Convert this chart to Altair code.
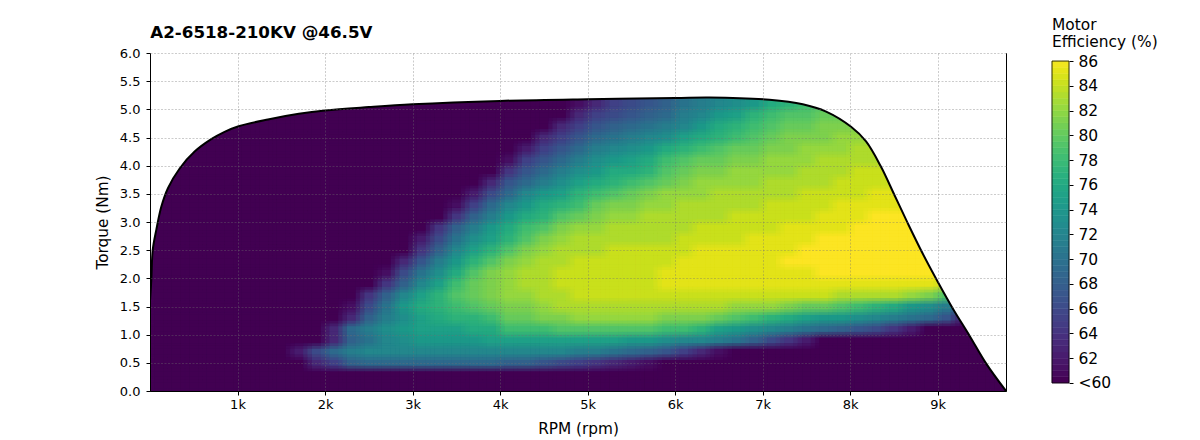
import altair as alt
import pandas as pd

TITLE = "A2-6518-210KV @46.5V"
RPM_CENTERS = list(range(100, 9800, 200))
LEFT_COLS = 8  # 100..1500 rpm are all below the 60 % floor
TORQUE_CENTERS = [0.1, 0.3, 0.5, 0.7, 0.9, 1.1, 1.3, 1.5, 1.7, 1.9, 2.1, 2.3, 2.5, 2.7, 2.9,
                  3.1, 3.3, 3.5, 3.7, 3.9, 4.1, 4.3, 4.5, 4.7, 4.9, 5.1]

# each row starts at 1700 rpm, step 200 rpm
EFF_ROWS = [
    [60],
    [60],
    [60,63,65,68,69,69,69,69,69,69,69,69,68,68,67,66,65,64,63,62,61,60],
    [62,66,69,71,72,72,72,72,72,72,72,72,72,72,72,72,71,71,70,69,68,67,65,63,61,60],
    [60,60,63,68,70,72,73,74,74,74,74,75,75,75,75,75,75,75,75,74,74,73,72,72,71,70,68,66,64,62,60],
    [60,60,63,69,71,73,74,75,75,75,76,76,78,78,78,79,79,79,79,79,79,78,78,77,75,74,73,72,71,70,69,68,67,66,64,62,60],
    [60,60,60,63,68,71,73,75,76,77,77,78,80,80,81,81,82,82,82,82,82,81,81,81,80,79,78,77,76,75,74,74,73,72,71,70,69,67,62,60],
    [60,60,60,61,66,70,74,76,77,78,79,80,81,81,82,83,83,83,83,83,83,83,83,83,83,82,82,82,81,80,80,79,78,77,76,74,73,71,68,62,60],
    [60,60,60,60,64,68,72,75,77,79,80,81,82,82,83,83,84,84,84,84,84,84,84,84,84,84,84,84,84,84,84,83,83,83,83,82,81,79,77,74,70],
    [60,60,60,60,60,64,68,72,75,78,80,81,82,83,83,84,84,84,84,84,84,85,85,85,85,85,85,85,85,85,85,85,85,85,85,85,85,84,84,84,84],
    [60,60,60,60,60,61,66,70,73,76,79,81,82,83,83,84,84,84,84,84,84,85,85,85,85,85,85,85,85,85,86,86,86,86,86,86,86,86,86,86,86],
    [60,60,60,60,60,60,63,67,71,74,77,79,81,82,83,83,84,84,84,84,84,84,85,85,85,85,85,85,86,86,86,86,86,86,86,86,86,86,86,86,86],
    [60,60,60,60,60,60,60,64,68,72,75,77,79,81,82,83,83,83,84,84,84,84,84,85,85,85,85,85,85,86,86,86,86,86,86,86,86,86,86,86,86],
    [60,60,60,60,60,60,60,62,66,70,73,75,77,79,81,82,83,83,83,83,83,83,84,84,84,84,85,85,85,85,86,86,86,86,86,86,86,86,86,86,86],
    [60,60,60,60,60,60,60,60,64,68,71,74,76,78,79,81,82,82,83,83,83,83,83,84,84,84,84,84,85,85,85,85,86,86,86,86,86,86,86,86,86],
    [60,60,60,60,60,60,60,60,60,64,68,71,74,76,77,79,80,81,82,82,83,83,83,83,83,84,84,84,84,84,85,85,85,86,86,86,86,86,86,86,86],
    [60,60,60,60,60,60,60,60,60,61,65,69,72,74,76,77,78,80,81,81,82,82,83,83,83,83,83,84,84,84,84,85,85,85,85,85,85,85,85,85,85],
    [60,60,60,60,60,60,60,60,60,60,62,66,69,72,74,75,77,78,79,80,81,82,82,82,83,83,83,83,83,84,84,84,84,85,85,85,85,85,85,85,85],
    [60,60,60,60,60,60,60,60,60,60,60,63,67,69,71,73,75,76,77,78,79,80,81,82,82,82,82,83,83,83,83,84,84,84,84,84,84,84,84,84,84],
    [60,60,60,60,60,60,60,60,60,60,60,60,64,67,69,71,73,74,76,76,77,79,80,81,81,82,82,82,82,83,83,83,84,84,84,84,84,84,84,84,84],
    [60,60,60,60,60,60,60,60,60,60,60,60,61,65,67,69,71,73,74,75,76,78,79,80,80,81,81,82,82,82,83,83,83,83,83,83,83,83,83,83,83],
    [60,60,60,60,60,60,60,60,60,60,60,60,60,62,65,67,69,71,72,73,74,76,77,78,79,80,80,81,81,82,82,82,83,83,83,83,83,83,83,83,83],
    [60,60,60,60,60,60,60,60,60,60,60,60,60,60,63,65,67,69,70,71,72,73,75,76,77,78,79,80,81,81,81,82,82,82,82,82,82,82,82,82,82],
    [60,60,60,60,60,60,60,60,60,60,60,60,60,60,60,63,65,67,68,69,70,71,72,74,76,77,78,79,80,80,81,81,81,81,81,81,81,81,81,81,81],
    [60,60,60,60,60,60,60,60,60,60,60,60,60,60,60,60,63,65,66,67,68,69,71,72,74,75,77,78,79,79,80,80,80,80,80,80,80,80,80,80,80],
    [60,60,60,60,60,60,60,60,60,60,60,60,60,60,60,60,61,63,65,66,67,68,70,71,72,73,74,76,77,78,79,79,79,79,79,79,79,79,79,79,79],
]

CURVE_RPM = [0, 15, 31, 72, 129, 205, 339, 510, 700, 852, 1012, 1347, 1700, 2000, 2500, 3000, 4000, 5000, 6000, 6390,
             7078, 7458, 7725, 8010, 8181, 8352, 8505, 8657, 8828, 9000, 9170, 9360, 9552, 9780]
CURVE_TORQUE = [1.6, 1.97, 2.5, 2.86, 3.27, 3.6, 3.95, 4.25, 4.47, 4.6, 4.7, 4.82, 4.92, 4.98, 5.04, 5.09, 5.15, 5.18, 5.2, 5.21,
                5.17, 5.09, 4.96, 4.69, 4.43, 3.98, 3.48, 2.98, 2.44, 1.94, 1.47, 0.99, 0.49, 0.0]

X_TICKS = [1000, 2000, 3000, 4000, 5000, 6000, 7000, 8000, 9000]
Y_TICKS = [0.0, 0.5, 1.0, 1.5, 2.0, 2.5, 3.0, 3.5, 4.0, 4.5, 5.0, 5.5, 6.0]
BAR_TICKS = [60, 62, 64, 66, 68, 70, 72, 74, 76, 78, 80, 82, 84, 86]
BAR_LEVELS = [60 + i * 0.5 for i in range(52)]

cells = []
for t, row in zip(TORQUE_CENTERS, EFF_ROWS):
    full = [60] * LEFT_COLS + row
    full = full + [60] * (len(RPM_CENTERS) - len(full))
    for r, e in zip(RPM_CENTERS, full):
        cells.append({"x0": r - 100, "x1": r + 100, "y0": t - 0.1, "y1": t + 0.1, "eff": e})
cells = pd.DataFrame(cells)
curve = pd.DataFrame({"rpm": CURVE_RPM, "torque": CURVE_TORQUE})

color_scale = alt.Scale(scheme="viridis", domain=[60, 86], clamp=True)
x_scale = alt.Scale(domain=[0, 9780], nice=False)
y_scale = alt.Scale(domain=[0, 6], nice=False)
x_axis = alt.Axis(values=X_TICKS, labelExpr="datum.value / 1000 + 'k'", title="RPM (rpm)",
                  zindex=1, grid=True, titlePadding=10, labelPadding=3)
y_axis = alt.Axis(values=Y_TICKS, format=".1f", title="Torque (Nm)", zindex=1, grid=True,
                  titlePadding=9, labelPadding=6)


def heat_layer(dx, dy, opacity):
    shifted = cells.assign(x0=cells.x0 + dx, x1=cells.x1 + dx, y0=cells.y0 + dy, y1=cells.y1 + dy)
    return alt.Chart(shifted).mark_rect(clip=True, opacity=opacity, strokeWidth=0).encode(
        x=alt.X("x0:Q", scale=x_scale, axis=x_axis),
        x2="x1:Q",
        y=alt.Y("y0:Q", scale=y_scale, axis=y_axis),
        y2="y1:Q",
        color=alt.Color("eff:Q", scale=color_scale, legend=None),
    )


base = alt.Chart(cells).mark_rect(clip=True, strokeWidth=0.6).encode(
    x=alt.X("x0:Q", scale=x_scale, axis=x_axis),
    x2="x1:Q",
    y=alt.Y("y0:Q", scale=y_scale, axis=y_axis),
    y2="y1:Q",
    color=alt.Color("eff:Q", scale=color_scale, legend=None),
    stroke=alt.Stroke("eff:Q", scale=color_scale, legend=None),
)
# the same cells, staggered, to soften the steps as the reference's smoothing does
soft = [
    heat_layer(-50, -0.05, 1 / 2), heat_layer(50, -0.05, 1 / 3),
    heat_layer(-50, 0.05, 1 / 4), heat_layer(50, 0.05, 1 / 5),
    heat_layer(0, -0.05, 1 / 6), heat_layer(0, 0.05, 1 / 7),
    heat_layer(-50, 0, 1 / 8), heat_layer(50, 0, 1 / 9),
]

mask = alt.Chart(curve).mark_area(color="white", interpolate="catmull-rom", opacity=1).encode(
    x=alt.X("rpm:Q", scale=x_scale, axis=x_axis),
    y=alt.Y("torque:Q", scale=y_scale, axis=y_axis),
    y2=alt.Y2(datum=6),
)
line = alt.Chart(curve).mark_line(color="black", strokeWidth=2, interpolate="catmull-rom", clip=True).encode(
    x=alt.X("rpm:Q", scale=x_scale, axis=x_axis),
    y=alt.Y("torque:Q", scale=y_scale, axis=y_axis),
)
main = alt.layer(base, *soft, mask, line).properties(
    width=856, height=338,
    title=alt.TitleParams(TITLE, anchor="start", fontSize=16.7, fontWeight="bold",
                          font="DejaVu Sans", offset=5, dx=55, color="black"),
    view=alt.ViewConfig(stroke="black", strokeWidth=1),
)

bar_df = pd.DataFrame({"lo": BAR_LEVELS, "hi": [v + 0.5 for v in BAR_LEVELS]})
bar_scale = alt.Scale(domain=[59.35, 86.65], nice=False)
bar_axis = alt.Axis(orient="right", values=BAR_TICKS, title=None, grid=False, domain=False,
                    labelFontSize=15.5, labelPadding=5, tickSize=4,
                    labelExpr="datum.value == 60 ? '<60' : datum.value")
bar_rect = alt.Chart(bar_df).mark_rect(strokeWidth=0.5).encode(
    y=alt.Y("lo:Q", scale=bar_scale, axis=bar_axis),
    y2="hi:Q",
    color=alt.Color("lo:Q", scale=color_scale, legend=None),
    stroke=alt.Stroke("lo:Q", scale=color_scale, legend=None),
)
bar_frame = alt.Chart(pd.DataFrame({"lo": [60], "hi": [86]})).mark_rect(
    fillOpacity=0, stroke="black", strokeWidth=0.8
).encode(y=alt.Y("lo:Q", scale=bar_scale, axis=bar_axis), y2="hi:Q")
bar_title = alt.Chart(pd.DataFrame({"t": ["Motor", "Efficiency (%)"], "py": [-28, -11]})).mark_text(
    align="left", baseline="middle", fontSize=15.4, font="DejaVu Sans", color="black"
).encode(x=alt.value(0), y=alt.Y("py:Q", scale=None), text="t:N")
bar = alt.layer(bar_rect, bar_frame, bar_title).properties(
    width=17, height=338, view=alt.ViewConfig(stroke=None)
).resolve_scale(color="independent", stroke="independent")

chart = alt.hconcat(main, bar, spacing=44).properties(
    padding={"left": 86, "top": 10, "right": 5, "bottom": 5},
    background="white",
).configure_axis(
    labelFont="DejaVu Sans", titleFont="DejaVu Sans", labelFontSize=13, titleFontSize=15.3,
    titleFontWeight="normal", labelColor="black", titleColor="black",
    tickColor="black", domainColor="black", tickSize=4,
    gridColor="#707070", gridDash=[2, 1.5], gridWidth=0.6, gridOpacity=0.6,
)
chart.save("out.html", embed_options={"renderer": "svg", "actions": False})
